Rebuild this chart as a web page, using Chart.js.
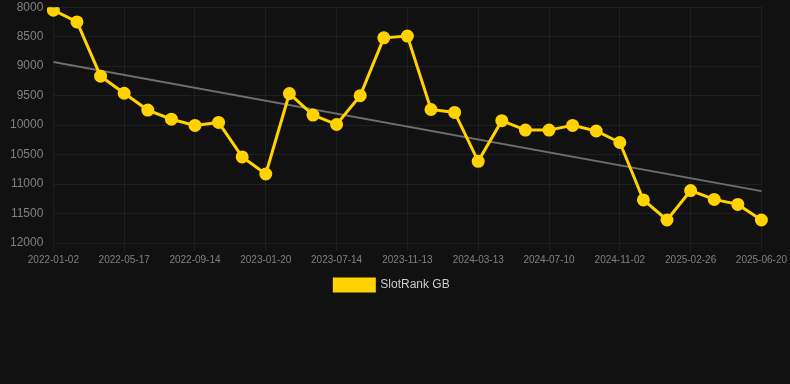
<!DOCTYPE html>
<html lang="en">
<head>
    <meta charset="UTF-8">
    <title>SlotRank GB</title>
    <script src="https://cdn.jsdelivr.net/npm/chart.js"></script>
    <style>
        html, body { margin: 0; padding: 0; background: #111111; overflow: hidden; }
        #wrap { width: 790px; height: 311px; margin-top: -10px; }
    </style>
</head>
<body>
    <div id="wrap"><canvas id="rankChart"></canvas></div>
    <script>
        const dates = [
            "2022-01-02", "2022-02-16", "2022-04-01", "2022-05-17", "2022-06-26", "2022-08-05",
            "2022-09-14", "2022-10-27", "2022-12-09", "2023-01-20", "2023-03-19", "2023-05-16",
            "2023-07-14", "2023-08-24", "2023-10-04", "2023-11-13", "2023-12-23", "2024-02-02",
            "2024-03-13", "2024-04-22", "2024-06-01", "2024-07-10", "2024-08-18", "2024-09-25",
            "2024-11-02", "2024-12-10", "2025-01-18", "2025-02-26", "2025-04-04", "2025-05-12",
            "2025-06-20"
        ];
        const rankGB = [
            8050, 8250, 9170, 9460, 9745, 9900, 10005, 9955, 10540, 10830,
            9465, 9830, 9990, 9500, 8520, 8490, 9735, 9785, 10615, 9925,
            10085, 10085, 10005, 10100, 10295, 11270, 11610, 11110, 11260, 11345,
            11610
        ];
        const trendStart = 8930;
        const trendEnd = 11120;
        const trend = dates.map((d, i) => i === 0 ? trendStart : (i === dates.length - 1 ? trendEnd : null));

        Chart.defaults.font.family = "'Liberation Sans', Arial, sans-serif";

        new Chart(document.getElementById("rankChart"), {
            type: "line",
            data: {
                labels: dates,
                datasets: [
                    {
                        label: "SlotRank GB",
                        data: rankGB,
                        borderColor: "#ffd200",
                        backgroundColor: "#ffd200",
                        borderWidth: 3,
                        pointRadius: 5,
                        pointHoverRadius: 6,
                        tension: 0
                    },
                    {
                        label: "Trend",
                        data: trend,
                        borderColor: "#6e6e6e",
                        borderWidth: 2,
                        pointRadius: 0,
                        spanGaps: true
                    }
                ]
            },
            options: {
                responsive: true,
                maintainAspectRatio: false,
                animation: false,
                layout: { padding: { right: 6 } },
                plugins: {
                    legend: {
                        position: "bottom",
                        labels: {
                            color: "#cccccc",
                            font: { size: 12 },
                            padding: 10,
                            filter: item => item.text !== "Trend"
                        }
                    },
                    tooltip: { enabled: false }
                },
                scales: {
                    x: {
                        grid: { color: "rgba(255,255,255,0.06)" },
                        ticks: {
                            color: "#808080",
                            font: { size: 10 },
                            autoSkip: false,
                            maxRotation: 0,
                            padding: 3,
                            callback: function (value, index) {
                                return index % 3 === 0 ? dates[index] : null;
                            }
                        }
                    },
                    y: {
                        reverse: true,
                        min: 8000,
                        max: 12000,
                        grid: { color: "rgba(255,255,255,0.06)", drawTicks: false },
                        ticks: {
                            color: "#808080",
                            font: { size: 12 },
                            stepSize: 500,
                            padding: 10,
                            callback: value => String(value)
                        }
                    }
                }
            }
        });
    </script>
</body>
</html>
